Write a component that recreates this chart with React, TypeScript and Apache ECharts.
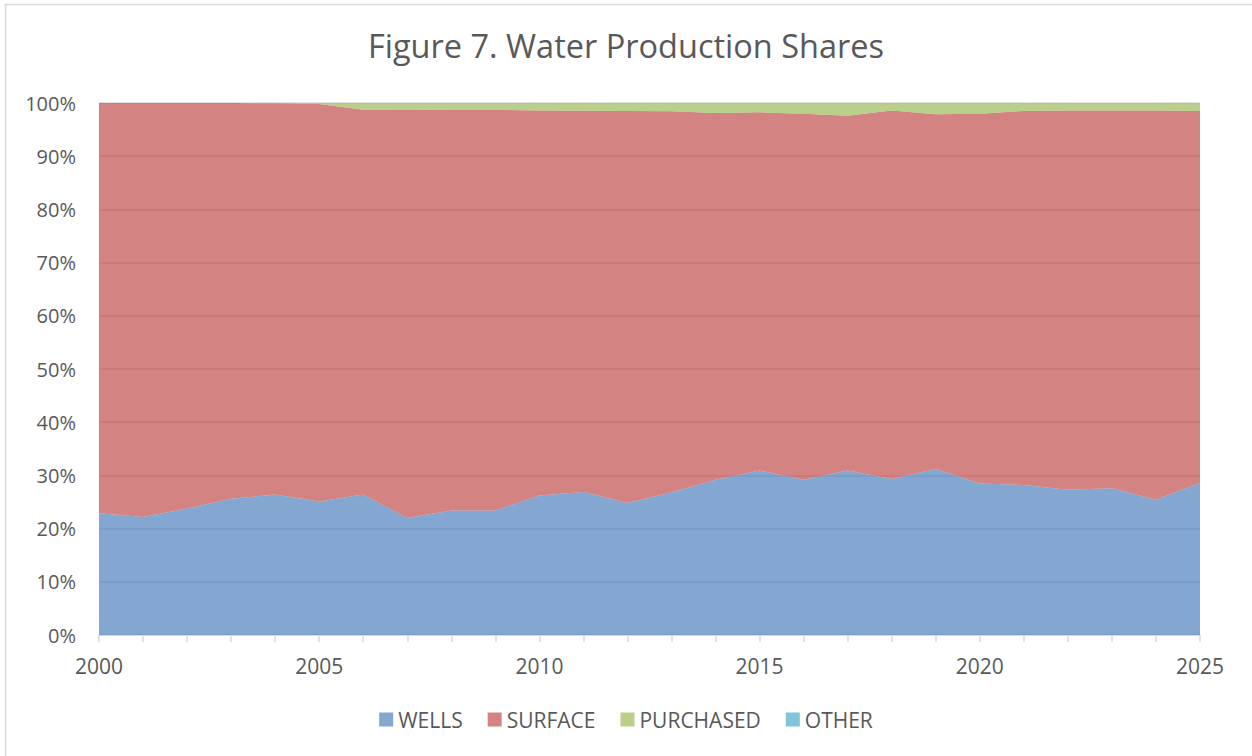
import React, { useEffect, useRef } from "react";
import * as echarts from "echarts";

const years = [
  "2000", "2001", "2002", "2003", "2004", "2005", "2006", "2007", "2008", "2009",
  "2010", "2011", "2012", "2013", "2014", "2015", "2016", "2017", "2018", "2019",
  "2020", "2021", "2022", "2023", "2024", "2025",
];

const wells = [
  22.9, 22.2, 23.8, 25.6, 26.4, 25.1, 26.4, 22.0, 23.4, 23.4,
  26.2, 26.9, 24.8, 26.8, 29.2, 30.9, 29.2, 30.9, 29.3, 31.2,
  28.5, 28.2, 27.3, 27.6, 25.4, 28.6,
];

const purchased = [
  0, 0, 0, 0, 0.05, 0.2, 1.25, 1.2, 1.3, 1.3,
  1.4, 1.45, 1.5, 1.55, 1.9, 1.75, 2.0, 2.4, 1.4, 2.1,
  2.0, 1.5, 1.4, 1.4, 1.4, 1.5,
];

const other = [
  0, 0, 0, 0, 0, 0, 0, 0, 0, 0,
  0, 0, 0, 0, 0, 0, 0, 0, 0, 0,
  0, 0, 0, 0, 0, 0,
];

const surface = wells.map((w, i) => +(100 - w - purchased[i] - other[i]).toFixed(2));

const seriesNames = ["WELLS", "SURFACE", "PURCHASED", "OTHER"];
const seriesData = [wells, surface, purchased, other];
const seriesColors = [
  "rgba(79,129,189,0.7)",
  "rgba(192,80,77,0.7)",
  "rgba(155,187,89,0.7)",
  "rgba(75,172,198,0.7)",
];

const FONT = "'Open Sans', 'Noto Sans', sans-serif";

export default function App() {
  const ref = useRef<HTMLDivElement>(null);

  useEffect(() => {
    if (!ref.current) return;
    const chart = echarts.init(ref.current, null, { renderer: "svg" });
    chart.setOption({
      animation: false,
      backgroundColor: "#ffffff",
      title: {
        text: "Figure 7. Water Production Shares",
        left: "center",
        top: 24,
        textStyle: {
          fontFamily: FONT,
          fontSize: 32.5,
          fontWeight: "normal",
          color: "#595959",
        },
      },
      graphic: [
        {
          type: "rect",
          shape: { x: 5.5, y: 4.5, width: 1260, height: 770 },
          style: { fill: "none", stroke: "#D9D9D9", lineWidth: 1.5 },
          silent: true,
        },
      ],
      legend: {
        bottom: 21,
        left: "center",
        itemWidth: 14,
        itemHeight: 14,
        itemGap: 25,
        icon: "rect",
        textStyle: { fontFamily: FONT, fontSize: 21, color: "#595959" },
        data: seriesNames,
      },
      grid: { left: 99, right: 52, top: 103, bottom: 121 },
      xAxis: {
        type: "category",
        data: years,
        boundaryGap: false,
        axisLine: { lineStyle: { color: "#D9D9D9", width: 1 } },
        axisTick: {
          show: true,
          interval: 0,
          length: 7,
          lineStyle: { color: "#D9D9D9", width: 1.5 },
        },
        axisLabel: {
          interval: 4,
          margin: 20,
          fontFamily: FONT,
          fontSize: 21,
          color: "#595959",
        },
        splitLine: { show: false },
      },
      yAxis: {
        type: "value",
        min: 0,
        max: 100,
        interval: 10,
        axisLine: { show: false },
        axisTick: { show: false },
        axisLabel: {
          formatter: "{value}%",
          margin: 23,
          fontFamily: FONT,
          fontSize: 20,
          color: "#595959",
        },
        splitLine: { lineStyle: { color: "#D9D9D9", width: 1.5 } },
      },
      series: seriesNames.map((name, i) => ({
        name,
        type: "line",
        stack: "total",
        data: seriesData[i],
        showSymbol: false,
        symbol: "none",
        lineStyle: { width: 0 },
        itemStyle: { color: seriesColors[i] },
        areaStyle: { color: seriesColors[i], opacity: 1 },
      })),
    });
    return () => chart.dispose();
  }, []);

  return (
    <div
      ref={ref}
      style={{ position: "fixed", left: 0, top: 0, width: 1252, height: 756 }}
    />
  );
}
